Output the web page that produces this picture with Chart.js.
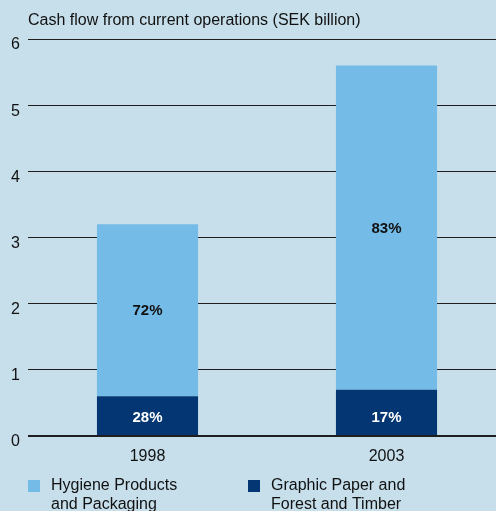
<!DOCTYPE html>
<html>
<head>
<meta charset="utf-8">
<script src="https://cdn.jsdelivr.net/npm/chart.js@4"></script>
<style>
  html, body { margin: 0; padding: 0; background: #c6dfeb; }
  #wrap { width: 496px; height: 511px; overflow: hidden; position: relative; }
  canvas { display: block; }
</style>
</head>
<body>
<div id="wrap"><canvas id="c" width="506" height="511"></canvas></div>
<script>
// Cash flow from current operations, SEK billion
const years = ['1998', '2003'];
const graphicPaper = [0.6, 0.7];   // Graphic Paper and Forest and Timber
const hygiene = [2.6, 4.9];        // Hygiene Products and Packaging
const graphicShare = [28, 17];     // share of total, %
const hygieneShare = [72, 83];     // share of total, %
const legendLines = [
  ['Hygiene Products', 'and Packaging'],
  ['Graphic Paper and', 'Forest and Timber']
];
const titleText = 'Cash flow from current operations (SEK billion)';

const LIGHT = '#74bbe7';
const DARK = '#033672';
const FONT = '"Liberation Sans", Arial, Helvetica, sans-serif';

const titlePlugin = {
  id: 'topTitle',
  afterDraw(chart) {
    const ctx = chart.ctx;
    const a = chart.chartArea;
    ctx.save();
    ctx.font = '16px ' + FONT;
    ctx.fillStyle = '#111';
    ctx.textBaseline = 'middle';
    ctx.textAlign = 'left';
    ctx.fillText(titleText, a.left, a.top - 18);
    ctx.restore();
  }
};

// Percentage shares: dark segment labels sit near the base, light ones mid-segment
const shareLabels = {
  id: 'shareLabels',
  afterDatasetsDraw(chart) {
    const ctx = chart.ctx;
    ctx.save();
    ctx.font = 'bold 15px ' + FONT;
    ctx.textAlign = 'center';
    ctx.textBaseline = 'middle';
    chart.data.datasets.forEach((ds, di) => {
      const meta = chart.getDatasetMeta(di);
      meta.data.forEach((bar, i) => {
        const y = ds.labelFromBase ? bar.base - 18 : (bar.y + bar.base) / 2;
        ctx.fillStyle = ds.labelColor;
        ctx.fillText(ds.shares[i] + '%', bar.x, y + 1);
      });
    });
    ctx.restore();
  }
};

const legendPlugin = {
  id: 'twoLineLegend',
  afterDraw(chart) {
    const ctx = chart.ctx;
    const a = chart.chartArea;
    const items = [
      { color: LIGHT, lines: legendLines[0], x: a.left },
      { color: DARK, lines: legendLines[1], x: a.left + 220 }
    ];
    ctx.save();
    ctx.font = '16px ' + FONT;
    ctx.textAlign = 'left';
    ctx.textBaseline = 'middle';
    const y0 = a.bottom + 50;
    items.forEach(it => {
      ctx.fillStyle = it.color;
      ctx.fillRect(it.x, y0 - 6, 12, 12);
      ctx.fillStyle = '#111';
      it.lines.forEach((t, k) => ctx.fillText(t, it.x + 23, y0 + k * 19));
    });
    ctx.restore();
  }
};

new Chart(document.getElementById('c'), {
  type: 'bar',
  data: {
    labels: years,
    datasets: [
      {
        label: 'Graphic Paper and Forest and Timber',
        data: graphicPaper,
        backgroundColor: DARK,
        shares: graphicShare,
        labelColor: '#ffffff',
        labelFromBase: true,
        barPercentage: 0.423,
        categoryPercentage: 1
      },
      {
        label: 'Hygiene Products and Packaging',
        data: hygiene,
        backgroundColor: LIGHT,
        shares: hygieneShare,
        labelColor: '#111111',
        labelFromBase: false,
        barPercentage: 0.423,
        categoryPercentage: 1
      }
    ]
  },
  options: {
    responsive: false,
    animation: false,
    layout: { padding: { top: 39, right: 0, bottom: 0, left: 0 } },
    plugins: {
      legend: { display: false },
      tooltip: { enabled: false },
      title: { display: false }
    },
    scales: {
      x: {
        stacked: true,
        grid: { display: false, drawTicks: false },
        border: { display: false },
        ticks: { color: '#111', font: { family: FONT, size: 16 }, padding: 11 },
        afterFit(s) { s.height = 75; }
      },
      y: {
        stacked: true,
        min: 0,
        max: 6,
        grid: {
          drawTicks: false,
          color: '#1e1e1e',
          lineWidth: ctx => (ctx.tick && ctx.tick.value === 0 ? 2 : 1)
        },
        border: { display: false },
        ticks: {
          stepSize: 1,
          color: '#111',
          font: { family: FONT, size: 16 },
          padding: 8,
          labelOffset: 6
        },
        afterFit(s) { s.width = 28; }
      }
    }
  },
  plugins: [titlePlugin, shareLabels, legendPlugin]
});
</script>
</body>
</html>
